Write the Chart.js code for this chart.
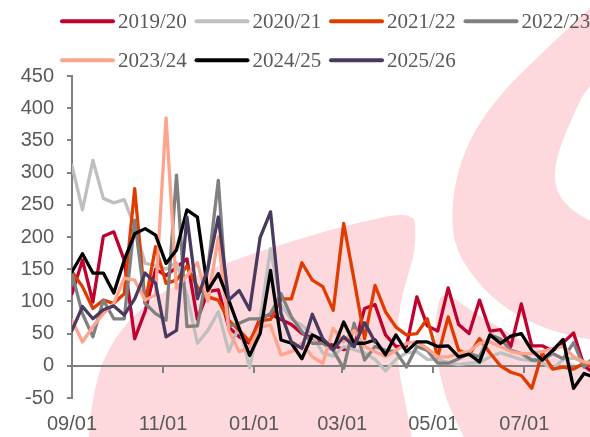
<!DOCTYPE html>
<html><head><meta charset="utf-8">
<script src="https://cdn.jsdelivr.net/npm/chart.js@4/dist/chart.umd.min.js"></script>
<style>html,body{margin:0;padding:0;background:#fff;overflow:hidden}</style>
</head><body>
<canvas id="c" width="590" height="437" style="display:block;width:590px;height:437px"></canvas>
<script>
// ---- data ----
const seasons = ['2019/20','2020/21','2021/22','2022/23','2023/24','2024/25','2025/26'];
const seasonColors = ['#C0002F','#BFBFBF','#E03C00','#808080','#FFA38C','#000000','#4B3A60'];
const tickDays = [0, 61, 122, 181, 242, 303];
const tickLabels = ['09/01','11/01','01/01','03/01','05/01','07/01'];
const daysPerWeek = 7;

const s1920 = [112,164,99,201,208,164,42,85,150,140,153,166,72,115,118,60,45,35,74,80,72,64,50,43,37,32,25,30,89,95,48,30,30,107,62,54,121,64,50,102,54,56,30,96,31,31,23,36,51,0,-12];
const s2021 = [311,242,319,260,253,258,216,159,156,150,160,110,35,55,84,22,62,-3,72,182,95,72,63,48,20,15,30,25,20,10,-8,10,20,22,10,10,5,2,4,5,14,20,15,10,8,5,-5,10,12,5,0];
const s2122 = [146,123,89,102,97,112,275,97,185,128,133,155,122,107,102,71,55,38,70,72,104,104,160,133,123,86,221,133,42,125,84,60,48,50,73,14,76,24,17,42,20,0,-10,-15,-35,20,-5,-2,-5,4,-3];
const s2223 = [143,81,45,102,73,73,226,97,81,71,296,61,62,150,288,61,66,73,73,81,112,76,53,35,35,24,-4,66,9,30,24,22,-2,30,24,4,4,11,19,14,48,42,24,19,9,9,19,11,36,-2,15];
const s2324 = [71,37,61,81,97,136,133,102,110,385,120,140,160,100,200,55,22,29,60,63,17,22,35,14,4,58,37,55,30,22,14,24,35,37,27,14,14,19,22,35,37,30,22,19,19,22,27,30,14,6,3];
const s2425 = [146,174,144,144,113,164,205,213,203,159,180,242,231,117,143,102,58,16,50,148,40,35,11,48,40,26,68,35,35,40,17,48,22,37,37,30,31,14,18,6,48,35,46,50,24,9,24,41,-35,-12,-18];
const s2526 = [55,92,73,87,93,79,104,144,128,45,55,231,104,151,231,102,117,87,199,239,81,37,27,80,42,25,45,30,67,37];

const seriesValues = [s1920, s2021, s2122, s2223, s2324, s2425, s2526];

// ---- decorative watermark ----
function smoothPath(ctx, pts){
  ctx.moveTo(pts[0][0], pts[0][1]);
  for (let i = 1; i < pts.length - 1; i++){
    const mx = (pts[i][0] + pts[i+1][0]) / 2, my = (pts[i][1] + pts[i+1][1]) / 2;
    ctx.quadraticCurveTo(pts[i][0], pts[i][1], mx, my);
  }
  const l = pts[pts.length-1];
  ctx.lineTo(l[0], l[1]);
}
const watermark = {
  id: 'watermark',
  beforeDraw(chart){
    const ctx = chart.ctx;
    ctx.save();
    ctx.fillStyle = '#fff';
    ctx.fillRect(0, 0, chart.width, chart.height);
    ctx.fillStyle = '#FDD8DC';
    // lower-left blob
    ctx.beginPath();
    smoothPath(ctx, [[88,445],[90,420],[94,392],[102,362],[120,330],[152,298],[195,275],[240,258],[295,240],[355,223],[414,211],[416,236],[413,260],[404,287],[398,318],[397,348],[400,378],[406,405],[413,445]]);
    ctx.closePath(); ctx.fill();
    // ring
    ctx.beginPath();
    smoothPath(ctx, [[610,-8],[590,8],[562,34],[535,60],[506,88],[478,124],[461,160],[453,195],[452,228],[457,250],[467,268],[487,293],[514,314],[548,330],[590,340],[620,344]]);
    ctx.lineTo(700, 344); ctx.lineTo(700, -10); ctx.closePath(); ctx.fill();
    // crescent
    ctx.beginPath();
    smoothPath(ctx, [[620,380],[590,369],[560,358],[530,345],[500,328],[470,310],[441,289],[435,320],[436,355],[444,393],[455,420],[468,445]]);
    ctx.lineTo(700, 445); ctx.lineTo(700, 380); ctx.closePath(); ctx.fill();
    // ring hole
    ctx.fillStyle = '#fff';
    ctx.beginPath();
    smoothPath(ctx, [[620,62],[590,80],[570,122],[556,158],[554,185],[565,205],[590,222],[620,232]]);
    ctx.lineTo(700, 232); ctx.lineTo(700, 62); ctx.closePath(); ctx.fill();
    ctx.restore();
  }
};

// ---- legend drawn from dataset labels ----
const lineLegend = {
  id: 'lineLegend',
  afterDraw(chart){
    const ctx = chart.ctx;
    ctx.save();
    ctx.font = '21px "Liberation Serif", "Times New Roman", serif';
    ctx.textBaseline = 'alphabetic';
    ctx.textAlign = 'left';
    chart.data.datasets.forEach((ds, k) => {
      const col = k % 4, row = Math.floor(k / 4);
      const x = 60 + col * 134.5;
      const ly = row ? 60.3 : 21.3;
      const base = row ? 66.7 : 28.3;
      ctx.strokeStyle = ds.borderColor;
      ctx.lineWidth = 4;
      ctx.lineCap = 'round';
      ctx.beginPath(); ctx.moveTo(x + 2, ly); ctx.lineTo(x + 53, ly); ctx.stroke();
      ctx.fillStyle = '#595959';
      ctx.fillText(ds.label, x + 58, base);
    });
    ctx.restore();
  }
};

const datasets = seasons.map((name, k) => ({
  label: name,
  data: seriesValues[k].map((v, i) => ({x: i * daysPerWeek, y: v})),
  borderColor: seasonColors[k],
  backgroundColor: seasonColors[k],
  borderWidth: 3.3,
  pointRadius: 0,
  tension: 0,
  fill: false,
  order: -k,
  borderJoinStyle: 'round',
  borderCapStyle: 'round'
}));

const axisFont = {family: '"Liberation Sans", Arial, sans-serif', size: 20};

new Chart(document.getElementById('c'), {
  type: 'line',
  data: {datasets},
  options: {
    responsive: false,
    devicePixelRatio: 1,
    animation: false,
    events: [],
    layout: {padding: {top: 76, bottom: 39, left: 0, right: 0}},
    plugins: {legend: {display: false}, tooltip: {enabled: false}},
    scales: {
      x: {
        type: 'linear',
        min: 0,
        max: 347,
        position: {y: 0},
        afterBuildTicks(s){ s.ticks = tickDays.map(v => ({value: v})); },
        afterFit(s){ s.paddingLeft = 0; s.paddingRight = 0; },
        ticks: {
          autoSkip: false, maxRotation: 0, minRotation: 0,
          color: '#595959', font: axisFont, padding: 41,
          callback: (v) => tickLabels[tickDays.indexOf(v)]
        },
        grid: {drawOnChartArea: false, drawTicks: true, tickLength: 6, color: '#808080', lineWidth: 2},
        border: {display: true, color: '#808080', width: 2}
      },
      y: {
        min: -50,
        max: 450,
        afterFit(s){ s.width = 72; },
        ticks: {stepSize: 50, color: '#595959', font: axisFont, padding: 13},
        grid: {drawOnChartArea: false, drawTicks: true, tickLength: 5, color: '#808080', lineWidth: 2},
        border: {display: true, color: '#808080', width: 2}
      }
    }
  },
  plugins: [watermark, lineLegend]
});
</script>
</body></html>
